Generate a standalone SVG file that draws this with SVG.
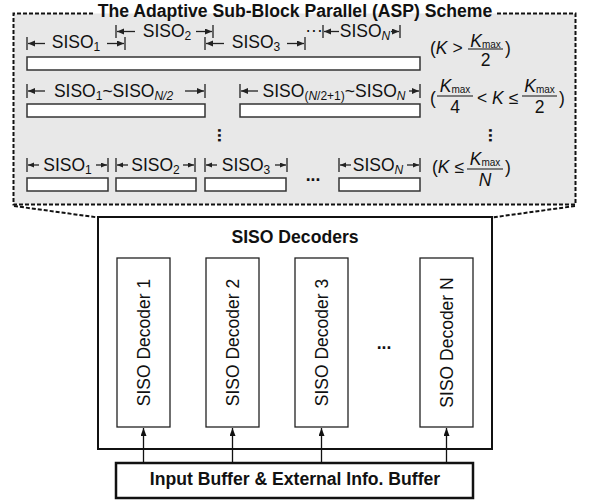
<svg xmlns="http://www.w3.org/2000/svg" width="591" height="501" viewBox="0 0 591 501">
<defs>
<marker id="ah" markerUnits="userSpaceOnUse" markerWidth="8" markerHeight="7" refX="7" refY="3" orient="auto"><path d="M0,0L7,3L0,6z" fill="#222"/></marker>
<marker id="ah2" markerUnits="userSpaceOnUse" markerWidth="7" markerHeight="6" refX="6" refY="2.5" orient="auto"><path d="M0,0L6,2.5L0,5z" fill="#222"/></marker>
<marker id="up" markerUnits="userSpaceOnUse" markerWidth="9" markerHeight="7" refX="8" refY="3" orient="auto"><path d="M0,0L8,3L0,6z" fill="#111"/></marker>
</defs>
<style>
text{font-family:"Liberation Sans",Arial,sans-serif;fill:#111}
.lbl{font-size:17.5px}
.b{font-weight:bold;font-size:17.6px}
.it{font-style:italic}
.br{stroke:#222;stroke-width:1.3;fill:none}
.ar{stroke:#222;stroke-width:1.3;fill:none;marker-end:url(#ah)}
.ar2{stroke:#222;stroke-width:1.3;fill:none;marker-end:url(#ah2)}
.upa{stroke:#111;stroke-width:1.3;fill:none;marker-end:url(#up)}
.seg{fill:#fff;stroke:#333;stroke-width:1.5}
.dash{fill:none;stroke:#111;stroke-width:2;stroke-dasharray:4 2}
.dec{fill:#fff;stroke:#222;stroke-width:1.3}
.fl{stroke:#111;stroke-width:1}
</style>

<g id="asp-panel">
<rect x="13.5" y="13.5" width="562" height="191" fill="#e8e8e8"/>
<path class="dash" d="M93,13.5H13.5V204.5H575.5V13.5H497"/>
<text class="b" x="295" y="16.5" text-anchor="middle">The Adaptive Sub-Block Parallel (ASP) Scheme</text>
</g>

<g id="row1">
<path class="br" d="M27,37V50M125,37V50M116,25V38M213,25V38M205,37V50M305,37V50M323,25V38M400,25V38"/>
<line class="ar" x1="45" y1="43.5" x2="28" y2="43.5"/>
<line class="ar" x1="107" y1="43.5" x2="124" y2="43.5"/>
<line class="ar" x1="135" y1="31.5" x2="117" y2="31.5"/>
<line class="ar" x1="196" y1="31.5" x2="212" y2="31.5"/>
<line class="ar" x1="224" y1="43.5" x2="206" y2="43.5"/>
<line class="ar" x1="287" y1="43.5" x2="304" y2="43.5"/>
<line class="ar" x1="339" y1="31.5" x2="324" y2="31.5"/>
<line class="ar" x1="391" y1="31.5" x2="399" y2="31.5"/>
<text class="lbl" x="76" y="48" text-anchor="middle">SISO<tspan font-size="12" dy="3">1</tspan></text>
<text class="lbl" x="167" y="36.5" text-anchor="middle">SISO<tspan font-size="12" dy="3">2</tspan></text>
<text class="lbl" x="256" y="48" text-anchor="middle">SISO<tspan font-size="12" dy="3">3</tspan></text>
<text class="lbl" x="314" y="36" text-anchor="middle">···</text>
<text class="lbl" x="365" y="36.5" text-anchor="middle">SISO<tspan font-size="12" dy="3" class="it">N</tspan></text>
<rect class="seg" x="27" y="57" width="393" height="13"/>
<text class="lbl" x="430" y="54">(<tspan class="it">K</tspan> &gt;</text>
<text class="lbl" x="485.5" y="47" text-anchor="middle"><tspan class="it">K</tspan><tspan font-size="10" dy="1">max</tspan></text>
<line class="fl" x1="468" y1="49" x2="503" y2="49"/>
<text class="lbl" x="485.5" y="66" text-anchor="middle">2</text>
<text class="lbl" x="505" y="54">)</text>
</g>

<g id="row2">
<path class="br" d="M27,84V98M205,84V98M240,84V98M420,84V98"/>
<line class="ar" x1="45" y1="91" x2="28" y2="91"/>
<line class="ar" x1="185" y1="91" x2="204" y2="91"/>
<line class="ar" x1="258" y1="91" x2="241" y2="91"/>
<line class="ar" x1="409" y1="91" x2="419" y2="91"/>
<text class="lbl" x="113.5" y="97" text-anchor="middle">SISO<tspan font-size="12" dy="3">1</tspan><tspan dy="-3">~SISO</tspan><tspan font-size="12" dy="3" class="it">N/2</tspan></text>
<text class="lbl" x="334" y="97" text-anchor="middle">SISO<tspan font-size="12" dy="3">(</tspan><tspan font-size="12" class="it">N</tspan><tspan font-size="12">/2+1)</tspan><tspan dy="-3">~SISO</tspan><tspan font-size="12" dy="3" class="it">N</tspan></text>
<rect class="seg" x="27" y="104" width="178" height="13"/>
<rect class="seg" x="240" y="104" width="180" height="13"/>
<text class="lbl" x="430" y="104">(</text>
<text class="lbl" x="455" y="92" text-anchor="middle"><tspan class="it">K</tspan><tspan font-size="10" dy="1">max</tspan></text>
<line class="fl" x1="437" y1="96" x2="473" y2="96"/>
<text class="lbl" x="455" y="113" text-anchor="middle">4</text>
<text class="lbl" x="477" y="104">&lt; <tspan class="it">K</tspan> ≤</text>
<text class="lbl" x="539.5" y="92" text-anchor="middle"><tspan class="it">K</tspan><tspan font-size="10" dy="1">max</tspan></text>
<line class="fl" x1="522" y1="96" x2="557" y2="96"/>
<text class="lbl" x="539.5" y="113" text-anchor="middle">2</text>
<text class="lbl" x="559" y="104">)</text>
</g>

<g id="row3">
<text class="b" transform="translate(217.8,128) rotate(90)">...</text>
<text class="b" transform="translate(488.8,128) rotate(90)">...</text>
</g>

<g id="row4">
<path class="br" d="M27,158V172M108,158V172M116,158V172M195,158V172M205,158V172M287,158V172M339,158V172M420,158V172"/>
<line class="ar2" x1="39" y1="165" x2="28" y2="165"/>
<line class="ar2" x1="96" y1="165" x2="107" y2="165"/>
<line class="ar2" x1="128" y1="165" x2="117" y2="165"/>
<line class="ar2" x1="183" y1="165" x2="194" y2="165"/>
<line class="ar2" x1="217" y1="165" x2="206" y2="165"/>
<line class="ar2" x1="275" y1="165" x2="286" y2="165"/>
<line class="ar2" x1="351" y1="165" x2="340" y2="165"/>
<line class="ar2" x1="407" y1="165" x2="419" y2="165"/>
<text class="lbl" x="67.5" y="171" text-anchor="middle">SISO<tspan font-size="12" dy="3">1</tspan></text>
<text class="lbl" x="155.5" y="171" text-anchor="middle">SISO<tspan font-size="12" dy="3">2</tspan></text>
<text class="lbl" x="246" y="171" text-anchor="middle">SISO<tspan font-size="12" dy="3">3</tspan></text>
<text class="lbl" x="378" y="171" text-anchor="middle">SISO<tspan font-size="12" dy="3" class="it">N</tspan></text>
<text class="b" x="313" y="181" text-anchor="middle">...</text>
<rect class="seg" x="27" y="178" width="81" height="13"/>
<rect class="seg" x="116" y="178" width="80" height="13"/>
<rect class="seg" x="205" y="178" width="81" height="13"/>
<rect class="seg" x="339" y="178" width="81" height="13"/>
<text class="lbl" x="432" y="173">(<tspan class="it">K</tspan> ≤</text>
<text class="lbl" x="485" y="165" text-anchor="middle"><tspan class="it">K</tspan><tspan font-size="10" dy="1">max</tspan></text>
<line class="fl" x1="467" y1="169" x2="503" y2="169"/>
<text class="lbl it" x="485" y="186" text-anchor="middle">N</text>
<text class="lbl" x="505" y="173">)</text>
</g>

<g id="siso-decoders">
<rect x="98" y="217" width="394" height="232" fill="#fff" stroke="#111" stroke-width="2"/>
<text class="b" x="295" y="243" text-anchor="middle">SISO Decoders</text>
</g>
<g id="decoder-1">
<rect class="dec" x="117" y="258" width="53" height="169"/>
<text class="lbl" transform="translate(143.5,342.5) rotate(-90)" x="0" y="6" text-anchor="middle">SISO Decoder 1</text>
</g>
<g id="decoder-2">
<rect class="dec" x="206" y="258" width="53" height="169"/>
<text class="lbl" transform="translate(232.5,342.5) rotate(-90)" x="0" y="6" text-anchor="middle">SISO Decoder 2</text>
</g>
<g id="decoder-3">
<rect class="dec" x="295" y="258" width="53" height="169"/>
<text class="lbl" transform="translate(321.5,342.5) rotate(-90)" x="0" y="6" text-anchor="middle">SISO Decoder 3</text>
</g>
<g id="decoder-n">
<rect class="dec" x="420" y="258" width="53" height="169"/>
<text class="lbl" transform="translate(446.5,342.5) rotate(-90)" x="0" y="6" text-anchor="middle">SISO Decoder N</text>
</g>
<text class="b" x="384" y="349" text-anchor="middle">...</text>

<g id="input-buffer">
<rect x="116" y="463" width="357" height="35" fill="#fff" stroke="#111" stroke-width="2.5"/>
<text class="b" x="295" y="485" text-anchor="middle">Input Buffer &amp; External Info. Buffer</text>
</g>

<g id="connectors">
<path class="dash" d="M14,206L98,217.5M575,206L492,217.5"/>
<line class="upa" x1="143.5" y1="462" x2="143.5" y2="428"/>
<line class="upa" x1="232.5" y1="462" x2="232.5" y2="428"/>
<line class="upa" x1="321.5" y1="462" x2="321.5" y2="428"/>
<line class="upa" x1="446.5" y1="462" x2="446.5" y2="428"/>
</g>
</svg>
